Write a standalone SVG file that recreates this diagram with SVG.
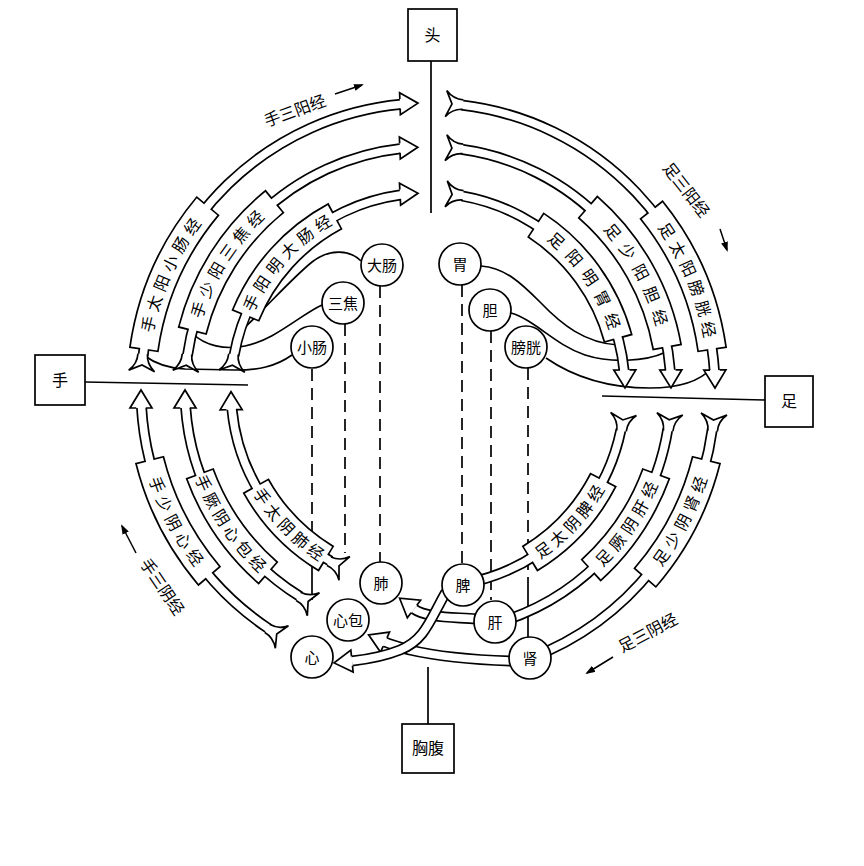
<svg xmlns="http://www.w3.org/2000/svg" width="864" height="866" viewBox="0 0 864 866">
<style>
text{font-family:"Noto Sans CJK SC","Noto Sans CJK JP",sans-serif;fill:#000}
.box{fill:#fff;stroke:#000;stroke-width:1.7}
.ln{fill:none;stroke:#000;stroke-width:1.7}
.dash{fill:none;stroke:#000;stroke-width:1.7;stroke-dasharray:12 7}
.sb{fill:none;stroke:#000;stroke-width:11}
.sw{fill:none;stroke:#fff;stroke-width:7.6}
.bb{fill:none;stroke:#000;stroke-width:30}
.bw{fill:none;stroke:#fff;stroke-width:26.6}
.org{fill:#fff;stroke:#000;stroke-width:1.7}
.ot{font-size:15px;text-anchor:middle}
.mt{font-size:16px;letter-spacing:5px;text-anchor:middle}
.lb{font-size:16px;text-anchor:middle}
.bt{font-size:16px;text-anchor:middle}
</style>
<defs>
<path id="hd" d="M-18,-4.75 L-18,-11 L0,0 L-18,11 L-18,4.75" fill="#fff" stroke="#000" stroke-width="1.7"/>
<path id="tl" d="M18,-4.75 Q8,-4.75 1,-13 L7,0 L1,13 Q8,4.75 18,4.75" fill="#fff" stroke="#000" stroke-width="1.7"/>
<marker id="ar" markerUnits="userSpaceOnUse" markerWidth="10" markerHeight="7" refX="8" refY="3.5" orient="auto"><path d="M0,0 L10,3.5 L0,7 z" fill="#000"/></marker>
<path id="tp1" d="M147,390 A281,281 0 1 1 709,390 A281,281 0 1 1 147,390"/>
<path id="tp2" d="M191,390 A237,237 0 1 1 665,390 A237,237 0 1 1 191,390"/>
<path id="tp3" d="M237,390 A191,191 0 1 1 619,390 A191,191 0 1 1 237,390"/>
<path id="tq1" d="M135,390 A293,293 0 1 0 721,390 A293,293 0 1 0 135,390"/>
<path id="tq2" d="M179,390 A249,249 0 1 0 677,390 A249,249 0 1 0 179,390"/>
<path id="tq3" d="M225,390 A203,203 0 1 0 631,390 A203,203 0 1 0 225,390"/>
</defs>
<rect width="864" height="866" fill="#fff"/>

<g id="node-tou"><rect class="box" x="408" y="9" width="49" height="52"/><text class="bt" x="432.5" y="41">头</text></g>
<g id="node-shou"><rect class="box" x="35" y="355" width="50" height="50"/><text class="bt" x="60" y="386">手</text></g>
<g id="node-zu"><rect class="box" x="765" y="376" width="48" height="51"/><text class="bt" x="789" y="407">足</text></g>
<g id="node-xiongfu"><rect class="box" x="402" y="724" width="52" height="49"/><text class="bt" x="428" y="754">胸腹</text></g>

<g id="connectors">
<path class="ln" d="M431,61 V213"/>
<path class="ln" d="M85,382 L248,385"/>
<path class="ln" d="M602,396 L765,400"/>
<path class="ln" d="M428,667 V724"/>
<path class="dash" d="M312,369 V523"/>
<path class="ln" d="M312,523 V600"/>
<path class="dash" d="M345,324 V553"/>
<path class="dash" d="M380,286 V562"/>
<path class="dash" d="M462,285 V564"/>
<path class="dash" d="M491,331 V600"/>
<path class="dash" d="M528,368 V578"/>
<path class="ln" d="M528,578 V637"/>
<path class="ln" d="M361,261 C350,250 330,248 312,262 C290,280 268,306 240,332"/>
<path class="ln" d="M322,305 C300,315 275,340 245,346 C225,350 205,346 192,333"/>
<path class="ln" d="M292,355 C275,367 258,370 235,370 L185,369 C165,368 153,362 145,356"/>
<path class="ln" d="M481,266 C505,268 520,282 540,302 C562,325 585,343 618,345"/>
<path class="ln" d="M511,313 C535,320 555,345 585,355 C610,363 645,362 666,352"/>
<path class="ln" d="M546,358 C575,378 610,388 650,388 C680,388 700,381 712,368"/>
</g>

<g id="m-shoutaiyang">
<circle class="sb" cx="428" cy="390" r="287" pathLength="360" stroke-dasharray="77.8 282.2" stroke-dashoffset="-186.9"/>
<circle class="bb" cx="428" cy="390" r="287" pathLength="360" stroke-dasharray="32 328" stroke-dashoffset="-188"/>
<circle class="bw" cx="428" cy="390" r="287" pathLength="360" stroke-dasharray="31.32 328.68" stroke-dashoffset="-188.34"/>
<circle class="sw" cx="428" cy="390" r="287" pathLength="360" stroke-dasharray="77.8 282.2" stroke-dashoffset="-186.9"/>
<use href="#tl" transform="translate(428 390) rotate(183.6) translate(287 0) rotate(90)"/>
<use href="#hd" transform="translate(428 390) rotate(268) translate(287 0) rotate(90)"/>
<text class="mt"><textPath href="#tp1" startOffset="120.2">手太阳小肠经</textPath></text>
</g>
<g id="m-shoushaoyang">
<circle class="sb" cx="428" cy="390" r="243" pathLength="360" stroke-dasharray="75.6 284.4" stroke-dashoffset="-188.1"/>
<circle class="bb" cx="428" cy="390" r="243" pathLength="360" stroke-dasharray="37 323" stroke-dashoffset="-194"/>
<circle class="bw" cx="428" cy="390" r="243" pathLength="360" stroke-dasharray="36.2 323.8" stroke-dashoffset="-194.4"/>
<circle class="sw" cx="428" cy="390" r="243" pathLength="360" stroke-dasharray="75.6 284.4" stroke-dashoffset="-188.1"/>
<use href="#tl" transform="translate(428 390) rotate(184.2) translate(243 0) rotate(90)"/>
<use href="#hd" transform="translate(428 390) rotate(267.6) translate(243 0) rotate(90)"/>
<text class="mt"><textPath href="#tp2" startOffset="134.9">手少阳三焦经</textPath></text>
</g>
<g id="m-shouyangming">
<circle class="sb" cx="428" cy="390" r="197" pathLength="360" stroke-dasharray="72.1 287.9" stroke-dashoffset="-190.1"/>
<circle class="bb" cx="428" cy="390" r="197" pathLength="360" stroke-dasharray="40 320" stroke-dashoffset="-202"/>
<circle class="bw" cx="428" cy="390" r="197" pathLength="360" stroke-dasharray="39.02 320.98" stroke-dashoffset="-202.49"/>
<circle class="sw" cx="428" cy="390" r="197" pathLength="360" stroke-dasharray="72.1 287.9" stroke-dashoffset="-190.1"/>
<use href="#tl" transform="translate(428 390) rotate(185.2) translate(197 0) rotate(90)"/>
<use href="#hd" transform="translate(428 390) rotate(267.1) translate(197 0) rotate(90)"/>
<text class="mt"><textPath href="#tp3" startOffset="142.5">手阳明大肠经</textPath></text>
</g>

<g id="m-zutaiyang">
<circle class="sb" cx="428" cy="390" r="287" pathLength="360" stroke-dasharray="79.6 280.4" stroke-dashoffset="-276.7"/>
<circle class="bb" cx="428" cy="390" r="287" pathLength="360" stroke-dasharray="31 329" stroke-dashoffset="-321"/>
<circle class="bw" cx="428" cy="390" r="287" pathLength="360" stroke-dasharray="30.32 329.68" stroke-dashoffset="-321.34"/>
<circle class="sw" cx="428" cy="390" r="287" pathLength="360" stroke-dasharray="79.6 280.4" stroke-dashoffset="-276.7"/>
<use href="#tl" transform="translate(428 390) rotate(273.4) translate(287 0) rotate(90)"/>
<use href="#hd" transform="translate(428 390) rotate(359.6) translate(287 0) rotate(90)"/>
<text class="mt"><textPath href="#tp1" startOffset="772.5">足太阳膀胱经</textPath></text>
</g>
<g id="m-zushaoyang">
<circle class="sb" cx="428" cy="390" r="243" pathLength="360" stroke-dasharray="77.7 282.3" stroke-dashoffset="-277.9"/>
<circle class="bb" cx="428" cy="390" r="243" pathLength="360" stroke-dasharray="39 321" stroke-dashoffset="-311"/>
<circle class="bw" cx="428" cy="390" r="243" pathLength="360" stroke-dasharray="38.2 321.8" stroke-dashoffset="-311.4"/>
<circle class="sw" cx="428" cy="390" r="243" pathLength="360" stroke-dasharray="77.7 282.3" stroke-dashoffset="-277.9"/>
<use href="#tl" transform="translate(428 390) rotate(274) translate(243 0) rotate(90)"/>
<use href="#hd" transform="translate(428 390) rotate(359.5) translate(243 0) rotate(90)"/>
<text class="mt" style="letter-spacing:8px"><textPath href="#tp2" startOffset="628.6">足少阳胆经</textPath></text>
</g>
<g id="m-zuyangming">
<circle class="sb" cx="428" cy="390" r="197" pathLength="360" stroke-dasharray="74.6 285.4" stroke-dashoffset="-279.9"/>
<circle class="bb" cx="428" cy="390" r="197" pathLength="360" stroke-dasharray="42 318" stroke-dashoffset="-303"/>
<circle class="bw" cx="428" cy="390" r="197" pathLength="360" stroke-dasharray="41.02 318.98" stroke-dashoffset="-303.49"/>
<circle class="sw" cx="428" cy="390" r="197" pathLength="360" stroke-dasharray="74.6 285.4" stroke-dashoffset="-279.9"/>
<use href="#tl" transform="translate(428 390) rotate(275) translate(197 0) rotate(90)"/>
<use href="#hd" transform="translate(428 390) rotate(359.4) translate(197 0) rotate(90)"/>
<text class="mt" style="letter-spacing:8px"><textPath href="#tp3" startOffset="487.4">足阳明胃经</textPath></text>
</g>

<g id="m-zushaoyin">
<circle class="sb" cx="428" cy="390" r="287" pathLength="360" stroke-dasharray="61.3 298.7" stroke-dashoffset="-7.9"/>
<circle class="bb" cx="428" cy="390" r="287" pathLength="360" stroke-dasharray="27 333" stroke-dashoffset="-14"/>
<circle class="bw" cx="428" cy="390" r="287" pathLength="360" stroke-dasharray="26.32 333.68" stroke-dashoffset="-14.34"/>
<circle class="sw" cx="428" cy="390" r="287" pathLength="360" stroke-dasharray="61.3 298.7" stroke-dashoffset="-7.9"/>
<use href="#tl" transform="translate(428 390) rotate(4.6) translate(287 0) rotate(90)"/>
<text class="mt"><textPath href="#tq1" startOffset="782.4">足少阴肾经</textPath></text>
</g>
<g id="m-zujueyin">
<circle class="sb" cx="428" cy="390" r="243" pathLength="360" stroke-dasharray="64.6 295.4" stroke-dashoffset="-9.3"/>
<circle class="bb" cx="428" cy="390" r="243" pathLength="360" stroke-dasharray="28 332" stroke-dashoffset="-20"/>
<circle class="bw" cx="428" cy="390" r="243" pathLength="360" stroke-dasharray="27.2 332.8" stroke-dashoffset="-20.4"/>
<circle class="sw" cx="428" cy="390" r="243" pathLength="360" stroke-dasharray="64.6 295.4" stroke-dashoffset="-9.3"/>
<use href="#tl" transform="translate(428 390) rotate(5.4) translate(243 0) rotate(90)"/>
<text class="mt"><textPath href="#tq2" startOffset="637">足厥阴肝经</textPath></text>
</g>
<g id="m-zutaiyin">
<circle class="sb" cx="428" cy="390" r="197" pathLength="360" stroke-dasharray="68.2 291.8" stroke-dashoffset="-11.6"/>
<circle class="bb" cx="428" cy="390" r="197" pathLength="360" stroke-dasharray="32 328" stroke-dashoffset="-27"/>
<circle class="bw" cx="428" cy="390" r="197" pathLength="360" stroke-dasharray="31.02 328.98" stroke-dashoffset="-27.49"/>
<circle class="sw" cx="428" cy="390" r="197" pathLength="360" stroke-dasharray="68.2 291.8" stroke-dashoffset="-11.6"/>
<use href="#tl" transform="translate(428 390) rotate(6.7) translate(197 0) rotate(90)"/>
<text class="mt" style="letter-spacing:4px"><textPath href="#tq3" startOffset="487.4">足太阴脾经</textPath></text>
</g>

<g id="m-shoushaoyin">
<circle class="sb" cx="428" cy="390" r="287" pathLength="360" stroke-dasharray="53 307" stroke-dashoffset="-123.7"/>
<circle class="bb" cx="428" cy="390" r="287" pathLength="360" stroke-dasharray="26.5 333.5" stroke-dashoffset="-139.5"/>
<circle class="bw" cx="428" cy="390" r="287" pathLength="360" stroke-dasharray="25.82 334.18" stroke-dashoffset="-139.84"/>
<circle class="sw" cx="428" cy="390" r="287" pathLength="360" stroke-dasharray="53 307" stroke-dashoffset="-123.7"/>
<use href="#tl" transform="translate(428 390) rotate(120.4) translate(287 0) rotate(90)"/>
<use href="#hd" transform="translate(428 390) rotate(180) translate(287 0) rotate(90)"/>
<text class="mt"><textPath href="#tq1" startOffset="143.1">手少阴心经</textPath></text>
</g>
<g id="m-shoujueyin">
<circle class="sb" cx="428" cy="390" r="243" pathLength="360" stroke-dasharray="54.3 305.7" stroke-dashoffset="-121.8"/>
<circle class="bb" cx="428" cy="390" r="243" pathLength="360" stroke-dasharray="29 331" stroke-dashoffset="-131"/>
<circle class="bw" cx="428" cy="390" r="243" pathLength="360" stroke-dasharray="28.2 331.8" stroke-dashoffset="-131.4"/>
<circle class="sw" cx="428" cy="390" r="243" pathLength="360" stroke-dasharray="54.3 305.7" stroke-dashoffset="-121.8"/>
<use href="#tl" transform="translate(428 390) rotate(117.9) translate(243 0) rotate(90)"/>
<use href="#hd" transform="translate(428 390) rotate(180) translate(243 0) rotate(90)"/>
<text class="mt" style="letter-spacing:4px"><textPath href="#tq2" startOffset="149.8">手厥阴心包经</textPath></text>
</g>
<g id="m-shoutaiyin">
<circle class="sb" cx="428" cy="390" r="197" pathLength="360" stroke-dasharray="54.9 305.1" stroke-dashoffset="-119.7"/>
<circle class="bb" cx="428" cy="390" r="197" pathLength="360" stroke-dasharray="30 330" stroke-dashoffset="-121"/>
<circle class="bw" cx="428" cy="390" r="197" pathLength="360" stroke-dasharray="29.02 330.98" stroke-dashoffset="-121.49"/>
<circle class="sw" cx="428" cy="390" r="197" pathLength="360" stroke-dasharray="54.9 305.1" stroke-dashoffset="-119.7"/>
<use href="#tl" transform="translate(428 390) rotate(114.8) translate(197 0) rotate(90)"/>
<use href="#hd" transform="translate(428 390) rotate(179.5) translate(197 0) rotate(90)"/>
<text class="mt" style="letter-spacing:4px"><textPath href="#tq3" startOffset="157.9">手太阴肺经</textPath></text>
</g>

<g id="link-gan-fei">
<path class="sb" d="M476,619 C455,617 426,618 414,609"/>
<path class="sw" d="M476,619 C455,617 426,618 414,609"/>
<use href="#hd" transform="translate(399.6 598.2) rotate(-143)"/>
</g>
<g id="link-shen-xinbao">
<path class="sb" d="M511,661 C480,660 440,657 410,650 C400,647 392,645 385,642"/>
<path class="sw" d="M511,661 C480,660 440,657 410,650 C400,647 392,645 385,642"/>
<use href="#hd" transform="translate(368.6 634.8) rotate(-156)"/>
</g>
<g id="link-pi-xin">
<path class="sb" d="M446,592 C430,620 425,640 400,650 C385,656 370,659 352,661"/>
<path class="sw" d="M446,592 C430,620 425,640 400,650 C385,656 370,659 352,661"/>
<use href="#hd" transform="translate(334.1 662.9) rotate(174)"/>
</g>

<g id="o-dachang"><circle class="org" cx="382" cy="265" r="21"/><text class="ot" x="382" y="270.5">大肠</text></g>
<g id="o-sanjiao"><circle class="org" cx="343" cy="303" r="21"/><text class="ot" x="343" y="308.5">三焦</text></g>
<g id="o-xiaochang"><circle class="org" cx="312" cy="347" r="21"/><text class="ot" x="312" y="352.5">小肠</text></g>
<g id="o-wei"><circle class="org" cx="460" cy="264" r="21"/><text class="ot" x="460" y="269.5">胃</text></g>
<g id="o-dan"><circle class="org" cx="490" cy="310" r="21"/><text class="ot" x="490" y="315.5">胆</text></g>
<g id="o-pangguang"><circle class="org" cx="526" cy="347" r="21"/><text class="ot" x="526" y="352.5">膀胱</text></g>
<g id="o-fei"><circle class="org" cx="381" cy="583" r="21"/><text class="ot" x="381" y="588.5">肺</text></g>
<g id="o-xinbao"><circle class="org" cx="348" cy="620" r="21"/><text class="ot" x="348" y="625.5">心包</text></g>
<g id="o-xin"><circle class="org" cx="312" cy="657" r="21"/><text class="ot" x="312" y="662.5">心</text></g>
<g id="o-pi"><circle class="org" cx="463" cy="585" r="21"/><text class="ot" x="463" y="590.5">脾</text></g>
<g id="o-gan"><circle class="org" cx="495" cy="622" r="21"/><text class="ot" x="495" y="627.5">肝</text></g>
<g id="o-shen"><circle class="org" cx="530" cy="658" r="21"/><text class="ot" x="530" y="663.5">肾</text></g>

<g id="lbl-shousanyang"><text class="lb" transform="translate(295 111) rotate(-20)" y="5.5">手三阳经</text><line class="ln" style="stroke-width:1.5" x1="335" y1="94" x2="362" y2="85" marker-end="url(#ar)"/></g>
<g id="lbl-zusanyang"><text class="lb" transform="translate(686 190) rotate(52)" y="5.5">足三阳经</text><line class="ln" style="stroke-width:1.5" x1="720" y1="229" x2="727" y2="250" marker-end="url(#ar)"/></g>
<g id="lbl-shousanyin"><text class="lb" transform="translate(162 587) rotate(56)" y="5.5">手三阴经</text><line class="ln" style="stroke-width:1.5" x1="136" y1="553" x2="122" y2="526" marker-end="url(#ar)"/></g>
<g id="lbl-zusanyin"><text class="lb" transform="translate(648 633) rotate(-28)" y="5.5">足三阴经</text><line class="ln" style="stroke-width:1.5" x1="613" y1="657" x2="587" y2="673" marker-end="url(#ar)"/></g>
</svg>
